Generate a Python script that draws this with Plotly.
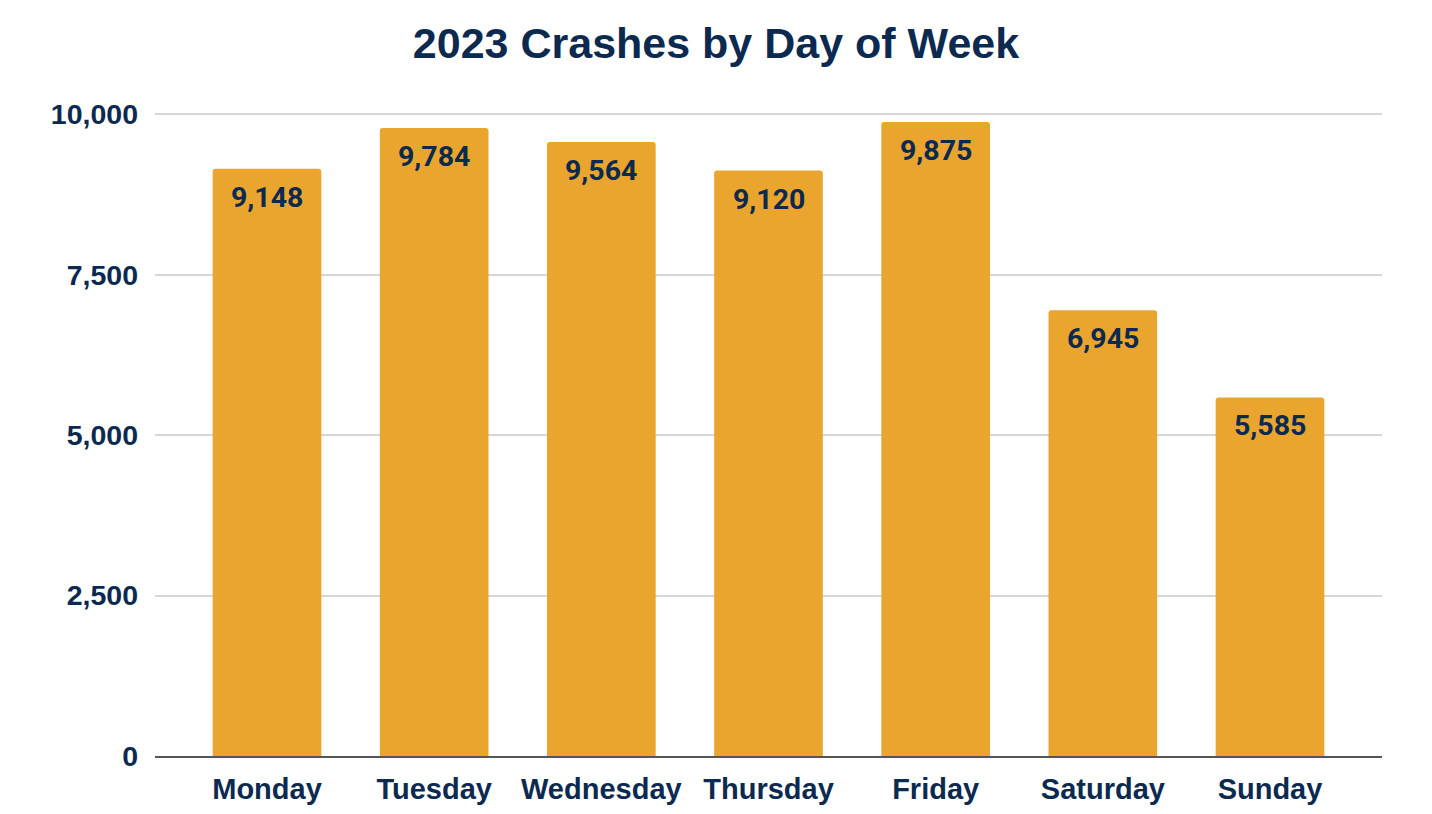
import plotly.graph_objects as go

days = ["Monday", "Tuesday", "Wednesday", "Thursday", "Friday", "Saturday", "Sunday"]
crashes = [9148, 9784, 9564, 9120, 9875, 6945, 5585]
tick_vals = [0, 2500, 5000, 7500, 10000]
tick_text = ["0", "2,500", "5,000", "7,500", "10,000"]

NAVY = "#0c2a50"
BAR = "#EAA52F"
# page body has an 8px margin; size figure to fit the viewport without scrolling
W, H = 1424, 798
L, R, T, B = 147, 50, 104, 50

fig = go.Figure()
fig.add_trace(go.Bar(
    x=days, y=crashes,
    marker=dict(color=BAR, cornerradius=3, line=dict(width=0)),
    hoverinfo="skip",
))
for d, v in zip(days, crashes):
    fig.add_annotation(x=d, y=v, text=f"<b>{v:,}</b>", showarrow=False,
                       yanchor="top", yshift=-10,
                       font=dict(family="Roboto", size=28.5, color=NAVY))

fig.update_layout(
    width=W, height=H,
    margin=dict(l=L, r=R, t=T, b=B, autoexpand=False),
    paper_bgcolor="white", plot_bgcolor="white",
    bargap=0.35,
    showlegend=False,
    title=dict(text="<b>2023 Crashes by Day of Week</b>", x=708 / W, xref="container",
               xanchor="center", y=1 - 35 / H, yref="container", yanchor="middle",
               font=dict(family="Liberation Sans", size=43, color=NAVY)),
)
fig.update_xaxes(range=[-0.67, 6.67], showgrid=False, showline=True, linecolor="#555555",
                 linewidth=2, ticks="", ticklabelstandoff=6, automargin=False,
                 tickfont=dict(family="Liberation Sans", size=29, color=NAVY, weight="bold"))
fig.update_yaxes(range=[0, 10032], tickvals=tick_vals, ticktext=tick_text,
                 showgrid=True, gridcolor="#d6d6d6", gridwidth=2, zeroline=False,
                 ticks="", ticklabelstandoff=16, showline=False, automargin=False,
                 tickfont=dict(family="Liberation Sans", size=28.5, color=NAVY, weight="bold"))

fig.write_html("out.html")
